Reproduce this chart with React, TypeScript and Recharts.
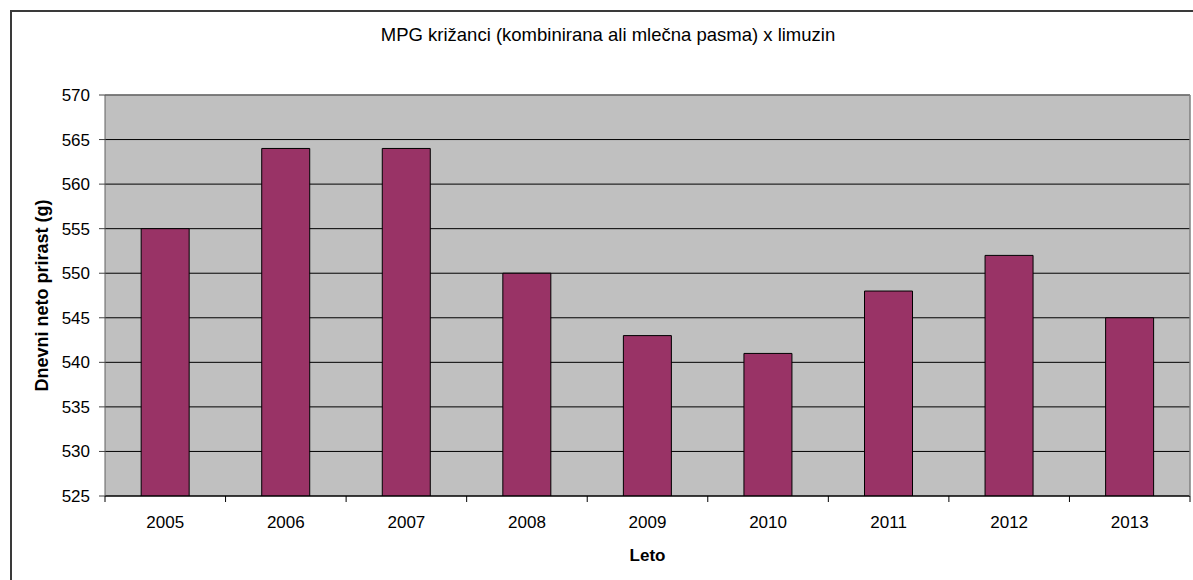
import React from "react";
import { Bar, BarChart, CartesianGrid, Label, ReferenceLine, XAxis, YAxis } from "recharts";

const YEARS = ["2005", "2006", "2007", "2008", "2009", "2010", "2011", "2012", "2013"];
const GAIN = [555, 564, 564, 550, 543, 541, 548, 552, 545];
const Y_TICKS = [525, 530, 535, 540, 545, 550, 555, 560, 565, 570];

const FONT = "'Liberation Sans', Arial, sans-serif";

const data = YEARS.map((year, i) => ({ year, gain: GAIN[i] }));

function YearTick(props: any) {
  const { x, y, payload, index } = props;
  const half = payload?.offset ?? 60.3;
  const last = index === YEARS.length - 1;
  return (
    <g>
      <line x1={x - half} x2={x - half} y1={y} y2={y + 6} stroke="#000" strokeWidth={1} />
      {last && <line x1={x + half} x2={x + half} y1={y} y2={y + 6} stroke="#000" strokeWidth={1} />}
      <text x={x} y={y + 32} textAnchor="middle" fill="#000" fontSize={17} fontFamily={FONT}>
        {payload.value}
      </text>
    </g>
  );
}

export default function App() {
  return (
    <div style={{ position: "fixed", left: 0, top: 0, width: 1193, height: 580, overflow: "hidden", background: "#fff" }}>
      <div
        style={{
          position: "absolute",
          left: 10,
          top: 10,
          width: 1200,
          height: 600,
          border: "2px solid #3a3a3a",
          boxSizing: "border-box",
        }}
      />
      <div
        style={{
          position: "absolute",
          left: 10,
          top: 24,
          width: 1196,
          textAlign: "center",
          fontFamily: FONT,
          fontSize: 18.5,
          color: "#000",
        }}
      >
        MPG križanci (kombinirana ali mlečna pasma) x limuzin
      </div>
      <div style={{ position: "absolute", left: 0, top: 0 }}>
        <BarChart
          width={1193}
          height={580}
          data={data}
          margin={{ top: 95, right: 0, bottom: 0, left: 0 }}
          barCategoryGap="30%"
        >
          <CartesianGrid vertical={false} stroke="#000" fill="#C0C0C0" fillOpacity={1} yAxisId="left" />
          <XAxis
            dataKey="year"
            height={84}
            tickSize={0}
            tickMargin={0}
            tickLine={false}
            axisLine={{ stroke: "#000" }}
            interval={0}
            tick={<YearTick />}
          >
            <Label
              value="Leto"
              position="insideBottom"
              offset={19}
              style={{ fontFamily: FONT, fontSize: 17, fontWeight: "bold", fill: "#000" }}
            />
          </XAxis>
          <YAxis
            yAxisId="left"
            type="number"
            domain={[525, 570]}
            ticks={Y_TICKS}
            interval={0}
            width={105}
            tickSize={6}
            tickMargin={9}
            allowDataOverflow
            axisLine={{ stroke: "#606060" }}
            tickLine={{ stroke: "#404040" }}
            tick={{ fill: "#000", fontSize: 17, fontFamily: FONT }}
          >
            <Label
              content={({ viewBox }: any) => {
                const cx = 42;
                const cy = viewBox.y + viewBox.height / 2;
                return (
                  <text
                    x={cx}
                    y={cy}
                    transform={`rotate(-90, ${cx}, ${cy})`}
                    textAnchor="middle"
                    dominantBaseline="central"
                    fontFamily={FONT}
                    fontSize={18}
                    fontWeight="bold"
                    fill="#000"
                  >
                    Dnevni neto prirast (g)
                  </text>
                );
              }}
            />
          </YAxis>
          <YAxis
            yAxisId="right"
            orientation="right"
            type="number"
            domain={[525, 570]}
            width={3}
            tick={false}
            tickLine={false}
            axisLine={{ stroke: "#808080", strokeWidth: 1.5 }}
          />
          <ReferenceLine yAxisId="left" y={570} stroke="#808080" strokeWidth={1.5} />
          <Bar
            yAxisId="left"
            dataKey="gain"
            fill="#993366"
            stroke="#000"
            strokeWidth={1}
            isAnimationActive={false}
          />
        </BarChart>
      </div>
    </div>
  );
}
